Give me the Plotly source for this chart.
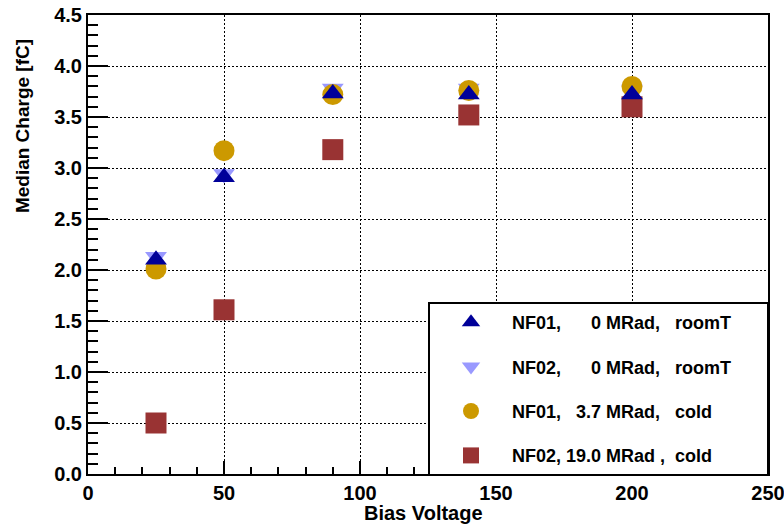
import plotly.graph_objects as go

bias_voltage = [25, 50, 90, 140, 200]
nf01_room = [2.10, 2.91, 3.73, 3.72, 3.72]
nf02_room = [2.13, 2.94, 3.78, 3.78, 3.77]
nf01_cold = [2.01, 3.17, 3.72, 3.76, 3.80]
nf02_cold = [0.50, 1.61, 3.18, 3.52, 3.60]

pad = "\u00a0" * 6
labels = [
    "NF01,\u00a0\u00a0\u00a0\u00a0\u00a0\u00a00 MRad,\u00a0\u00a0\u00a0roomT" + pad,
    "NF02,\u00a0\u00a0\u00a0\u00a0\u00a0\u00a00 MRad,\u00a0\u00a0\u00a0roomT" + pad,
    "NF01,\u00a0\u00a0\u00a03.7 MRad,\u00a0\u00a0\u00a0cold" + pad,
    "NF02, 19.0 MRad ,\u00a0\u00a0cold" + pad,
]

FONT = "Liberation Sans, Arial, sans-serif"

fig = go.Figure()
# drawing order: square, inverted triangle, circle, triangle
fig.add_trace(go.Scatter(x=bias_voltage, y=nf02_cold, mode="markers", name=labels[3],
                         legendrank=4, legendgroup="d",
                         marker=dict(symbol="square", size=21, color="#993333", line=dict(width=0))))
fig.add_trace(go.Scatter(x=bias_voltage, y=nf02_room, mode="markers", name=labels[1],
                         legendrank=2, legendgroup="b",
                         marker=dict(symbol="triangle-down", size=19, color="#9999FF", line=dict(width=0))))
fig.add_trace(go.Scatter(x=bias_voltage, y=nf01_cold, mode="markers", name=labels[2],
                         legendrank=3, legendgroup="c",
                         marker=dict(symbol="circle", size=21, color="#CC9900", line=dict(width=0))))
fig.add_trace(go.Scatter(x=bias_voltage, y=nf01_room, mode="markers", name=labels[0],
                         legendrank=1, legendgroup="a",
                         marker=dict(symbol="triangle-up", size=19, color="#000099", line=dict(width=0))))

axis_common = dict(
    showline=True, linecolor="black", linewidth=2, mirror=True,
    ticks="inside", tickcolor="black", tickwidth=2,
    showgrid=True, gridcolor="black", gridwidth=1.2, griddash="2px,2px",
    zeroline=False, automargin=False, ticklabeloverflow="allow",
    tickfont=dict(family=FONT, size=20, color="black", weight="bold"),
)

fig.update_xaxes(range=[0, 250], dtick=50, tick0=0, ticklen=13,
                 minor=dict(dtick=10, ticklen=7, ticks="inside", tickcolor="black",
                            tickwidth=2, showgrid=False),
                 **axis_common)
fig.update_yaxes(range=[0, 4.5], dtick=0.5, tick0=0, ticklen=20, tickformat=".1f",
                 minor=dict(dtick=0.1, ticklen=10, ticks="inside", tickcolor="black",
                            tickwidth=2, showgrid=False),
                 **axis_common)

fig.add_annotation(text="Bias Voltage", xref="paper", yref="paper", x=0.494, y=-0.085,
                   xanchor="center", yanchor="middle", showarrow=False,
                   font=dict(family=FONT, size=20, color="black", weight="bold"))
fig.add_annotation(text="Median Charge [fC]", xref="paper", yref="paper", x=-0.097, y=0.758,
                   xanchor="center", yanchor="middle", textangle=-90, showarrow=False,
                   font=dict(family=FONT, size=19, color="black", weight="bold"))

fig.update_layout(
    width=784, height=528,
    margin=dict(l=88, r=16, t=15, b=54, autoexpand=False),
    plot_bgcolor="white", paper_bgcolor="white",
    showlegend=True,
    legend=dict(x=0.5, y=0.3747, xanchor="left", yanchor="top",
                bgcolor="white", bordercolor="black", borderwidth=2,
                font=dict(family=FONT, size=18, color="black", weight="bold"),
                itemwidth=72, tracegroupgap=18, traceorder="grouped"),
)

fig.write_html("out.html", config={"displayModeBar": False},
               post_script="document.body.style.margin='0';document.body.style.overflow='hidden';")
